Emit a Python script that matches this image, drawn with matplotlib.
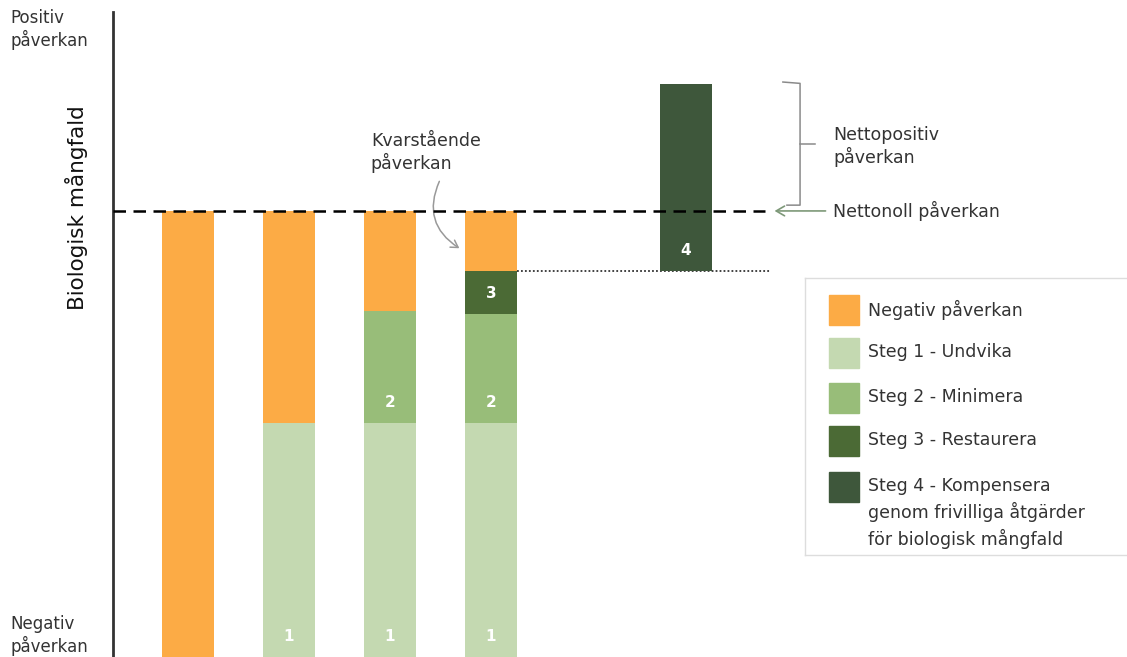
import matplotlib.pyplot as plt
from matplotlib.patches import Rectangle
import numpy as np

# bars: 4 stacked steps + compensation bar
xpos = [0, 1, 2, 3, 4.93]
negativ = [100, 47.5, 22.5, 13.5, 0]
steg1 = [0, 52.5, 52.5, 52.5, 0]
steg2 = [0, 0, 25, 24.5, 0]
steg3 = [0, 0, 0, 9.5, 0]
steg4 = [0, 0, 0, 0, 42]

labels = ['Negativ påverkan', 'Steg 1 - Undvika', 'Steg 2 - Minimera',
          'Steg 3 - Restaurera',
          'Steg 4 - Kompensera\ngenom frivilliga åtgärder\nför biologisk mångfald']
colors = ['#FCAB45', '#C4D9B1', '#98BD79', '#4B6A35', '#3E573B']

W, H = 1127, 657
plt.rcParams['font.family'] = ['DejaVu Sans']
fig = plt.figure(figsize=(W / 100, H / 100), dpi=100)
ax = fig.add_axes([113 / W, 0, 1 - 113 / W, (H - 12) / H])
xmin = -(188 - 113) / 101
ax.set_xlim(xmin, xmin + (W - 113) / 101)
ax.set_ylim(-100, 44.6)
for s in ['top', 'right', 'bottom']:
    ax.spines[s].set_visible(False)
ax.spines['left'].set_color('#333333')
ax.spines['left'].set_linewidth(2)
ax.set_xticks([])
ax.set_yticks([])

bw = 0.51
bottom = np.full(5, -100.0)
bottom[4] = -negativ[3]
order = [(steg1, colors[1], '1'), (steg2, colors[2], '2'), (steg3, colors[3], '3'),
         (steg4, colors[4], '4'), (negativ, colors[0], None)]
for vals, c, num in order:
    vals = np.array(vals, dtype=float)
    ax.bar(xpos, vals, bw, bottom=bottom, color=c, zorder=2)
    if num:
        for x, v, b in zip(xpos, vals, bottom):
            if v > 0:
                ax.text(x, b + 4.6, num, color='white', fontsize=11, fontweight='bold',
                        ha='center', va='center', zorder=3)
    bottom = bottom + vals

# net zero dashed line and residual dotted line
ax.plot([xmin, 5.71], [0, 0], color='black', lw=1.8, dashes=(5, 3), zorder=4)
ax.plot([3 + bw / 2, 5.76], [-negativ[3], -negativ[3]], color='#333333', lw=1.3,
        ls=(0, (1, 1.2)), zorder=1)

# curly bracket for net positive
top5 = -negativ[3] + steg4[4]
bx = 6.06
ax.plot([5.89, bx, bx, 5.93], [top5 + 0.4, top5 + 0.1, 1.3, 1.3], color='#8a8a8a', lw=1.1)
ax.plot([bx, 6.21], [top5 / 2 + 0.7, top5 / 2 + 0.7], color='#8a8a8a', lw=1.1)
ax.text(6.39, top5 / 2 + 0.2, 'Nettopositiv\npåverkan', fontsize=12.5, color='#333333',
        va='center', ha='left', linespacing=1.2)

ax.annotate('', xy=(5.78, 0), xytext=(6.34, 0),
            arrowprops=dict(arrowstyle='->,head_length=0.6,head_width=0.35',
                            color='#7d9878', lw=1.2))
ax.text(6.39, 0, 'Nettonoll påverkan', fontsize=12.5, color='#333333', va='center', ha='left')

ax.text(1.81, 17.8, 'Kvarstående\npåverkan', fontsize=12.5, color='#333333',
        va='top', ha='left', linespacing=1.2)
ax.annotate('', xy=(2.71, -8.7), xytext=(2.50, 7.2),
            arrowprops=dict(arrowstyle='->,head_length=0.5,head_width=0.3',
                            color='#999999', lw=1.1, connectionstyle='arc3,rad=0.45'))

# side labels
fig.text(10 / W, 1 - 9 / H, 'Positiv\npåverkan', fontsize=12, color='#333333',
         va='top', ha='left', linespacing=1.2)
fig.text(10 / W, 1 - 656 / H, 'Negativ\npåverkan', fontsize=12, color='#333333',
         va='bottom', ha='left', linespacing=1.2)
fig.text(77 / W, 1 - 208 / H, 'Biologisk mångfald', fontsize=15.5, color='#111111',
         rotation=90, ha='center', va='center')

# legend box
lg = fig.add_axes([805 / W, (H - 555) / H, 330 / W, 277 / H])
lg.set_xlim(0, 330)
lg.set_ylim(277, 0)
lg.set_xticks([])
lg.set_yticks([])
for s in lg.spines.values():
    s.set_color('#dddddd')
    s.set_linewidth(1)
ys = [32, 75, 120, 163, 209]
for y, c, lab in zip(ys, colors, labels):
    lg.add_patch(Rectangle((24, y - 15), 30, 30, color=c))
    lg.text(63, y - 10, lab, fontsize=12.5, color='#333333', va='top', ha='left',
            linespacing=1.42)

fig.savefig('out.png', dpi=100)
